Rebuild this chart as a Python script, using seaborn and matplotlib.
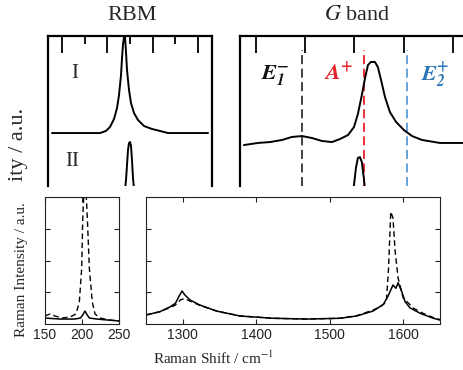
import matplotlib
matplotlib.use('Agg')
import matplotlib.pyplot as plt
import seaborn as sns

W, H, DPI = 464, 370, 100

# ---------------- data ----------------
# top-left (RBM) partial overlay, spectra I and II
rbm_I_x = [139.0, 191.9, 198.5, 202.9, 207.4, 210.7, 212.9, 215.1, 216.2, 217.3, 218.4, 219.5,
           220.6, 221.7, 223.9, 226.1, 229.4, 233.8, 240.4, 249.3, 258.1, 266.9, 311.0]
rbm_I_y = [0.353, 0.353, 0.367, 0.393, 0.447, 0.52, 0.607, 0.74, 0.853, 0.947, 0.993, 0.993,
           0.893, 0.773, 0.64, 0.553, 0.487, 0.44, 0.40, 0.38, 0.367, 0.353, 0.353]
rbm_II_x = [218.4, 220.6, 221.7, 222.8, 223.9, 225.0, 226.1, 227.2, 228.3, 230.5]
rbm_II_y = [-0.093, 0.04, 0.14, 0.24, 0.287, 0.293, 0.267, 0.173, 0.053, -0.093]
rbm_major_ticks = [150, 200, 250, 300]
rbm_minor_ticks = [175, 225, 275]
sample_labels = ['I', 'II']

# top-right (G band) partial overlay
g_I_x = [1515.1, 1520.8, 1525.7, 1530.6, 1534.6, 1538.7, 1542.7, 1546.8, 1550.9, 1554.1, 1557.4,
         1559.8, 1561.4, 1563.0, 1564.3, 1565.5, 1566.7, 1568.3, 1569.5, 1570.8, 1572.4, 1574.4,
         1576.9, 1580.1, 1583.4, 1587.4, 1594.7, 1606.9]
g_I_y = [0.273, 0.287, 0.293, 0.307, 0.327, 0.333, 0.32, 0.30, 0.293, 0.313, 0.34,
         0.393, 0.48, 0.607, 0.72, 0.807, 0.827, 0.827, 0.793, 0.707, 0.593, 0.493,
         0.427, 0.373, 0.333, 0.307, 0.287, 0.287]
g_II_x = [1559.0, 1559.8, 1560.6, 1561.4, 1562.2, 1563.0, 1563.9, 1564.7]
g_II_y = [-0.093, 0.007, 0.12, 0.187, 0.193, 0.16, 0.04, -0.093]
g_ticks = [1520, 1540, 1560, 1580, 1600]
g_modes = [1538.7, 1563.9, 1581.3]
g_mode_labels = [r'$\mathbfit{E}_{\mathbfit{1}}^{\mathbf{-}}$', r'$\mathbfit{A}^{\mathbf{+}}$',
                 r'$\mathbfit{E}_{\mathbfit{2}}^{\mathbf{+}}$']
g_mode_colors = ['#333333', '#e8202a', '#5b9bd5']
g_label_colors = ['#111111', '#e8202a', '#2e75b6']

# bottom-left: RBM region
low_x_solid = [150, 170, 190, 198, 201, 204, 207, 210, 220, 235, 250]
low_y_solid = [0.047, 0.039, 0.039, 0.047, 0.071, 0.102, 0.071, 0.047, 0.039, 0.031, 0.024]
low_x_dash = [150, 156.8, 163.5, 173, 183.8, 191.9, 196.4, 199.6, 201.0, 202.7, 205.4, 207.2,
              209.9, 213.9, 217.6, 224.3, 237.8, 250]
low_y_dash = [0.063, 0.079, 0.063, 0.047, 0.055, 0.079, 0.173, 0.441, 0.835, 1.05, 1.05, 0.835,
              0.441, 0.173, 0.079, 0.047, 0.031, 0.024]
low_xticks = [150, 200, 250]

# bottom-right: D / G region
high_x_solid = [1250, 1269, 1283, 1290, 1294.6, 1299, 1303, 1310, 1323, 1346, 1378, 1423, 1468.6,
                1514, 1536.7, 1559, 1573, 1580, 1586, 1590, 1593, 1598, 1602.5, 1609, 1623, 1641, 1650]
high_y_solid = [0.071, 0.097, 0.136, 0.163, 0.215, 0.26, 0.228, 0.189, 0.15, 0.102, 0.063, 0.045, 0.039,
                0.045, 0.063, 0.102, 0.155, 0.228, 0.307, 0.281, 0.325, 0.254, 0.176, 0.128, 0.084, 0.045, 0.031]
high_x_dash = [1250, 1269, 1283, 1290, 1297, 1302, 1310, 1323, 1346, 1378, 1423, 1468, 1514, 1537,
               1559, 1570, 1577, 1580, 1583, 1586, 1589, 1593, 1600, 1614, 1627, 1641, 1650]
high_y_dash = [0.071, 0.097, 0.13, 0.15, 0.19, 0.2, 0.18, 0.147, 0.102, 0.063, 0.045, 0.039, 0.045, 0.066,
               0.11, 0.14, 0.176, 0.44, 0.884, 0.835, 0.57, 0.362, 0.205, 0.124, 0.084, 0.05, 0.035]
high_xticks = [1300, 1400, 1500, 1600]
y_ticks = [0.25, 0.5, 0.75]

# ---------------- style ----------------
sns.set_style('white')
plt.rcParams['font.family'] = ['Liberation Serif', 'DejaVu Serif']
plt.rcParams['mathtext.fontset'] = 'stix'

fig = plt.figure(figsize=(W / DPI, H / DPI), dpi=DPI)
fig.patch.set_facecolor('white')


def px_axes(l, t, r, b):
    return fig.add_axes([l / W, 1 - b / H, (r - l) / W, (b - t) / H])


def fy(y):
    return 1 - y / H


# ---------------- top-left overlay (RBM) ----------------
ax1 = px_axes(48, 36, 212, 186)
sns.lineplot(x=rbm_I_x, y=rbm_I_y, ax=ax1, color='black', lw=1.4, estimator=None, sort=False)
sns.lineplot(x=rbm_II_x, y=rbm_II_y, ax=ax1, color='black', lw=1.4, estimator=None, sort=False)
ax1.set_xlim(134.6, 315.4)
ax1.set_ylim(0, 1)
ax1.set_yticks([])
ax1.set_xticks(rbm_major_ticks)
ax1.set_xticks(rbm_minor_ticks, minor=True)
ax1.tick_params(axis='x', which='both', direction='in', top=True, bottom=False,
                labeltop=False, labelbottom=False, width=1.3, color='black')
ax1.tick_params(axis='x', which='major', length=12)
ax1.tick_params(axis='x', which='minor', length=6)
ax1.spines['bottom'].set_visible(False)
for s in ['left', 'right', 'top']:
    ax1.spines[s].set_linewidth(1.6)
    ax1.spines[s].set_color('black')
ax1.set_xlabel('')
ax1.set_ylabel('')
for (lx, ly), lab in zip([(75, 73), (72, 161)], sample_labels):
    fig.text(lx / W, fy(ly), lab, fontsize=15, ha='center', va='center')

# ---------------- top-right overlay (G band) ----------------
ax2 = px_axes(240, 36, 480, 186)
for xm, c in zip(g_modes, g_mode_colors):
    ax2.axvline(xm, ymin=0, ymax=0.907, color=c, lw=1.3, dashes=(5, 2.5))
sns.lineplot(x=g_I_x, y=g_I_y, ax=ax2, color='black', lw=1.4, estimator=None, sort=False)
sns.lineplot(x=g_II_x, y=g_II_y, ax=ax2, color='black', lw=1.4, estimator=None, sort=False)
ax2.set_xlim(1513.5, 1611.0)
ax2.set_ylim(0, 1)
ax2.set_yticks([])
ax2.set_xticks(g_ticks)
ax2.tick_params(axis='x', which='major', direction='in', top=True, bottom=False,
                labeltop=False, labelbottom=False, width=1.3, length=12, color='black')
ax2.spines['bottom'].set_visible(False)
for s in ['left', 'right', 'top']:
    ax2.spines[s].set_linewidth(1.6)
    ax2.spines[s].set_color('black')
ax2.set_xlabel('')
ax2.set_ylabel('')

label_pos = [(275, 75), (339, 73), (435, 75)]
for (lx, ly), lab, c in zip(label_pos, g_mode_labels, g_label_colors):
    fig.text(lx / W, fy(ly), lab, color=c, fontsize=16, ha='center', va='center')

fig.text(132 / W, fy(15), 'RBM', fontsize=16, ha='center', va='center')
fig.text(357 / W, fy(15), r'$G$ band', fontsize=16, ha='center', va='center')
fig.text(19 / W, fy(181), 'ity / a.u.', fontsize=16, rotation=90, ha='center', va='bottom')

# ---------------- bottom panels ----------------
tick_font = ['Liberation Sans', 'DejaVu Sans']


def style_bottom(ax, xlim, xticks):
    ax.set_xlim(*xlim)
    ax.set_ylim(0, 1)
    ax.set_xticks(xticks)
    ax.set_yticks(y_ticks)
    ax.tick_params(axis='both', which='major', direction='in', length=3.8, width=0.8,
                   top=True, bottom=True, left=True, right=True,
                   labelleft=False, labelbottom=True, pad=3, color='#222222',
                   labelcolor='#222222')
    for lab in ax.get_xticklabels():
        lab.set_family(tick_font)
        lab.set_fontsize(10)
    for s in ax.spines.values():
        s.set_linewidth(0.8)
        s.set_color('#222222')
    ax.set_xlabel('')
    ax.set_ylabel('')


ax3 = px_axes(45, 197, 119, 324)
sns.lineplot(x=low_x_dash, y=low_y_dash, ax=ax3, color='black', lw=1.0, dashes=False,
             linestyle=(0, (4, 2.5)), estimator=None, sort=False)
sns.lineplot(x=low_x_solid, y=low_y_solid, ax=ax3, color='black', lw=1.1, estimator=None, sort=False)
style_bottom(ax3, (150, 250), low_xticks)

ax4 = px_axes(146, 197, 440, 324)
sns.lineplot(x=high_x_dash, y=high_y_dash, ax=ax4, color='black', lw=1.0, dashes=False,
             linestyle=(0, (4, 2.5)), estimator=None, sort=False)
sns.lineplot(x=high_x_solid, y=high_y_solid, ax=ax4, color='black', lw=1.1, estimator=None, sort=False)
style_bottom(ax4, (1250, 1650), high_xticks)

fig.text(213 / W, fy(358), r'Raman Shift / cm$^{-1}$', fontsize=11, ha='center', va='center')
fig.text(22 / W, fy(270), 'Raman Intensity / a.u.', fontsize=11, rotation=90,
         ha='center', va='center')

fig.savefig('out.png', dpi=DPI, facecolor='white')
